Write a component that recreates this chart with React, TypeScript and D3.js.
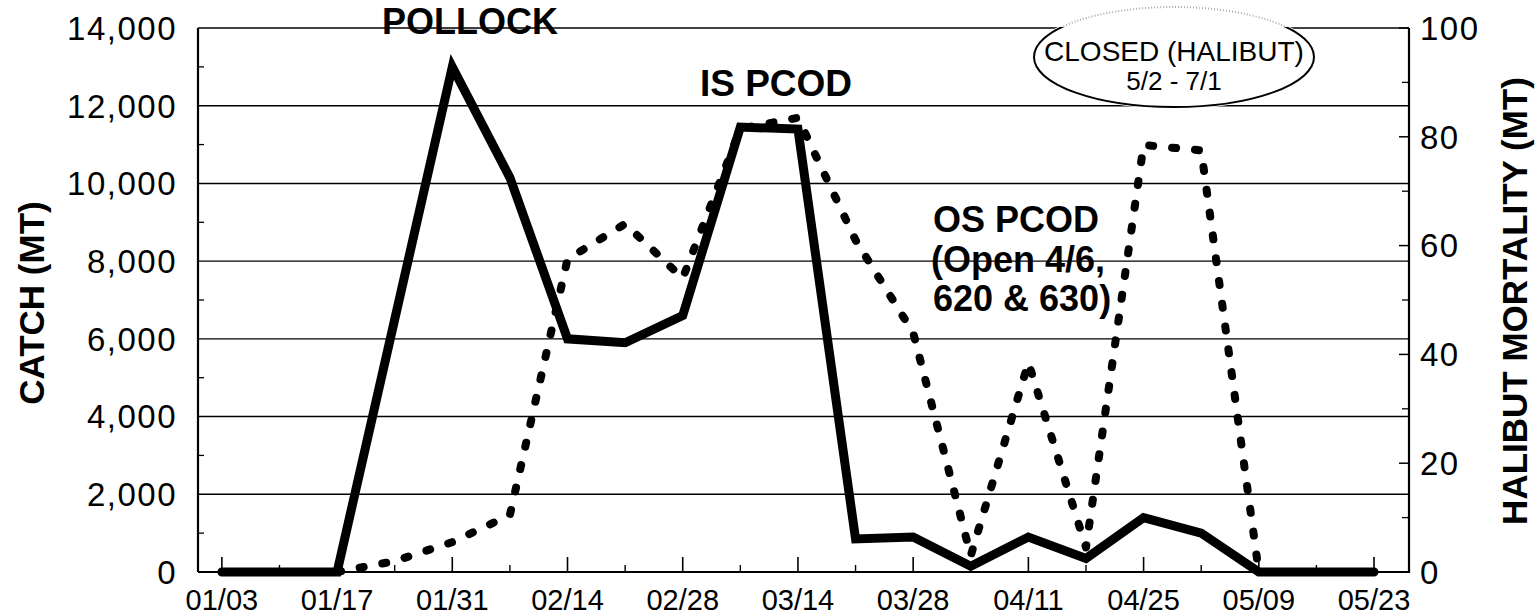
import React from 'react';
import * as d3 from 'd3';

const weeks = ["01/03","01/10","01/17","01/24","01/31","02/07","02/14","02/21","02/28","03/07","03/14","03/21","03/28","04/04","04/11","04/18","04/25","05/02","05/09","05/16","05/23"];
const catchMT = [0,0,0,6500,13000,10150,6000,5900,6600,11450,11400,850,900,150,900,350,1400,1000,0,0,0];
const halibutMT: (number | null)[] = [null,null,0,2,5.5,10.5,57.5,64,54,81.5,83.5,61,44,3,38.5,4.5,78.5,77.5,0,null,null];
const xTickLabels = ["01/03","01/17","01/31","02/14","02/28","03/14","03/28","04/11","04/25","05/09","05/23"];
const leftTicks = [0,2000,4000,6000,8000,10000,12000,14000];
const leftMinor = [1000,3000,5000,7000,9000,11000,13000];
const rightTicks = [0,20,40,60,80,100];
const rightMinor = [10,30,50,70,90];

const W = 1538, H = 616;
const L = 198, R = 1409, T = 28, B = 572;
const FONT = "'Liberation Sans', Arial, Helvetica, sans-serif";
const DAY = 86400000;
const parse = (s: string) => d3.utcParse("%m/%d/%Y")(s + "/2001") as Date;

export default function App() {
  const x = d3.scaleUtc()
    .domain([new Date(+parse("01/03") - 2.9 * DAY), new Date(+parse("05/23") + 4.25 * DAY)])
    .range([L, R]);
  const yL = d3.scaleLinear().domain([0, 14000]).range([B, T]);
  const yR = d3.scaleLinear().domain([0, 100]).range([B, T]);

  const catchPts = weeks.map((w, i) => ({ d: parse(w), v: catchMT[i] }));
  const halPts = weeks.map((w, i) => ({ d: parse(w), v: halibutMT[i] }));
  const catchLine = d3.line<{ d: Date; v: number }>().x(p => x(p.d)).y(p => yL(p.v));
  const halLine = d3.line<{ d: Date; v: number | null }>()
    .defined(p => p.v !== null)
    .x(p => x(p.d)).y(p => yR(p.v as number));

  const fmt = d3.format(",");
  const majorDates = xTickLabels.map(parse);
  const minorDates = weeks.filter(w => !xTickLabels.includes(w)).map(parse);

  const ecx = 1174, ecy = 57, erx = 140, ery = 50;

  return (
    <svg width={W} height={H} viewBox={`0 0 ${W} ${H}`}
      style={{ position: 'absolute', left: 0, top: 0, background: '#fff', display: 'block' }}
      fontFamily={FONT}>
      <defs>
        <clipPath id="below"><rect x={0} y={T - 1} width={W} height={H} /></clipPath>
        <clipPath id="above"><rect x={0} y={0} width={W} height={T - 1} /></clipPath>
      </defs>
      <rect x={0} y={0} width={W} height={H} fill="#fff" />

      {/* gridlines */}
      {leftTicks.map(t => (
        <line key={'g' + t} x1={L} x2={R} y1={yL(t)} y2={yL(t)} stroke="#000"
          strokeWidth={t === 0 ? 2.2 : 1.4} />
      ))}
      {/* left minor ticks */}
      {leftMinor.map(t => (
        <line key={'lm' + t} x1={L} x2={L + 6} y1={yL(t)} y2={yL(t)} stroke="#000" strokeWidth={1.3} />
      ))}
      {/* right ticks */}
      {rightTicks.map(t => (
        <line key={'rt' + t} x1={R - 10} x2={R} y1={yR(t)} y2={yR(t)} stroke="#000" strokeWidth={1.5} />
      ))}
      {rightMinor.map(t => (
        <line key={'rm' + t} x1={R - 7} x2={R} y1={yR(t)} y2={yR(t)} stroke="#000" strokeWidth={1.3} />
      ))}
      {/* bottom ticks */}
      {majorDates.map((d, i) => (
        <line key={'bt' + i} x1={x(d)} x2={x(d)} y1={B - 15} y2={B} stroke="#000" strokeWidth={1.6} />
      ))}
      {minorDates.map((d, i) => (
        <line key={'bm' + i} x1={x(d)} x2={x(d)} y1={B - 7} y2={B} stroke="#000" strokeWidth={1.4} />
      ))}
      {/* axes */}
      <line x1={L} x2={L} y1={T} y2={B} stroke="#000" strokeWidth={2.2} />
      <line x1={R} x2={R} y1={T} y2={B + 1} stroke="#000" strokeWidth={2.2} />

      {/* closed ellipse */}
      <ellipse cx={ecx} cy={ecy} rx={erx + 2} ry={ery + 2} fill="#fff" stroke="none" />
      <ellipse cx={ecx} cy={ecy} rx={erx} ry={ery} fill="none" stroke="#000" strokeWidth={2}
        clipPath="url(#below)" />
      <ellipse cx={ecx} cy={ecy} rx={erx} ry={ery} fill="none" stroke="#aaa" strokeWidth={2}
        strokeDasharray="1 2" clipPath="url(#above)" />
      <text x={ecx} y={61} textAnchor="middle" fontSize={28}>CLOSED (HALIBUT)</text>
      <text x={ecx} y={90} textAnchor="middle" fontSize={26}>5/2 - 7/1</text>

      {/* series */}
      <path d={halLine(halPts) || ''} fill="none" stroke="#000" strokeWidth={8}
        strokeDasharray="4 19" strokeLinecap="round" strokeLinejoin="round" />
      <path d={catchLine(catchPts) || ''} fill="none" stroke="#000" strokeWidth={9}
        strokeLinecap="round" strokeLinejoin="miter" strokeMiterlimit={6} />

      {/* left tick labels */}
      {leftTicks.map(t => (
        <text key={'ll' + t} x={L - 21} y={yL(t)} dy="0.36em" textAnchor="end" fontSize={33}
          letterSpacing={1.5}>{fmt(t)}</text>
      ))}
      {/* right tick labels */}
      {rightTicks.map(t => (
        <text key={'rl' + t} x={R + 11} y={yR(t)} dy="0.36em" textAnchor="start" fontSize={33}
          letterSpacing={1.5}>{t}</text>
      ))}
      {/* bottom tick labels */}
      {majorDates.map((d, i) => (
        <text key={'xl' + i} x={x(d)} y={610} textAnchor="middle" fontSize={29}>{xTickLabels[i]}</text>
      ))}

      {/* axis titles */}
      <text transform={`translate(44,${(T + B) / 2 + 3}) rotate(-90)`} textAnchor="middle"
        fontSize={35} fontWeight="bold">CATCH (MT)</text>
      <text transform={`translate(1527,${(T + B) / 2 + 1}) rotate(-90)`} textAnchor="middle"
        fontSize={35} fontWeight="bold">HALIBUT MORTALITY (MT)</text>

      {/* annotations */}
      <text x={470} y={34} textAnchor="middle" fontSize={36} fontWeight="bold">POLLOCK</text>
      <text x={776} y={96} textAnchor="middle" fontSize={37} fontWeight="bold">IS PCOD</text>
      <text x={933} y={232} fontSize={36} fontWeight="bold">OS PCOD</text>
      <text x={931} y={272} fontSize={36} fontWeight="bold">(Open 4/6,</text>
      <text x={933} y={311} fontSize={36} fontWeight="bold">620 &amp; 630)</text>
    </svg>
  );
}
